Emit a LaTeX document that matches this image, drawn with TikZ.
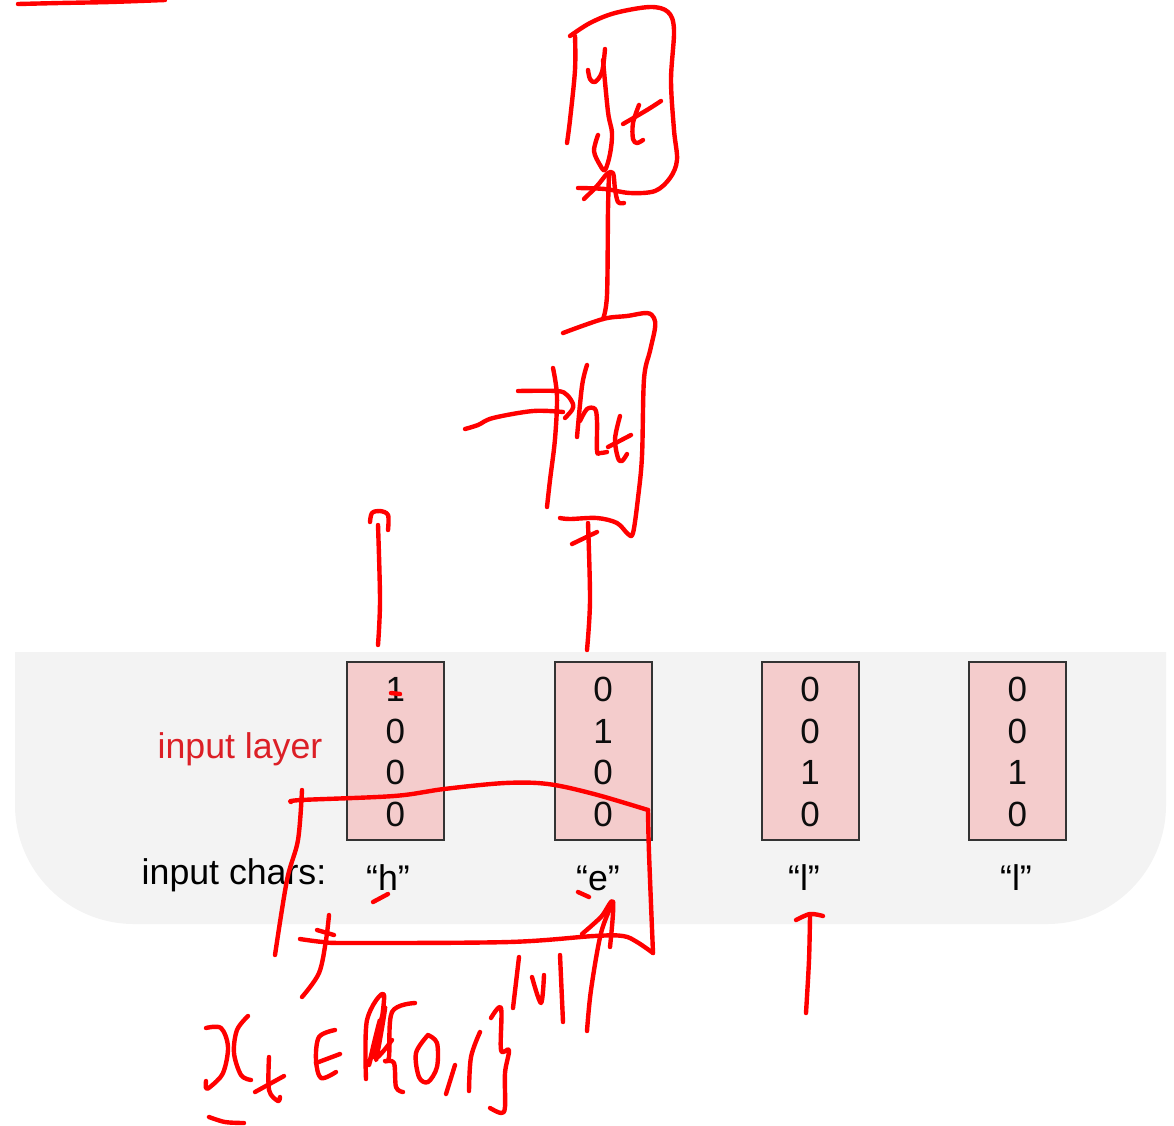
\documentclass[tikz,border=0pt]{standalone}
\usepackage{fontspec}
\setmainfont{Liberation Sans}
\definecolor{panel}{HTML}{F3F3F3}
\definecolor{cell}{HTML}{F4CCCC}
\definecolor{ink}{HTML}{FF0000}
\definecolor{lab}{HTML}{DC1F26}
\tikzset{
 vecbox/.style={draw=black!80,line width=2pt,fill=cell,minimum width=97pt,minimum height=178pt,inner sep=0pt},
 digit/.style={font=\fontsize{35}{35}\selectfont,inner sep=0pt,text=black!95},
 lbl/.style={font=\fontsize{35.7}{36}\selectfont,inner sep=0pt,text=black},
 pen/.style={draw=ink,line width=4.4pt,line cap=round,line join=round}
}
\newcommand{\pens}[1]{\draw[pen] plot[smooth,tension=0.55] coordinates {#1};}
\begin{document}
\begin{tikzpicture}[x=1pt,y=-1pt]
\useasboundingbox (0,0) rectangle (1174,1125);
\fill[panel] (15,652) -- (1166,652) -- (1166,805) arc[start angle=0,end angle=90,radius=119] -- (134,924) arc[start angle=90,end angle=180,radius=119] -- cycle;
\foreach \n/\x/\a/\b/\c/\d in {b1/395.3/1/0/0/0,b2/603/0/1/0/0,b3/810/0/0/1/0,b4/1017.3/0/0/1/0}{
 \node[vecbox] (\n) at (\x,750.5) {};
 \node[digit] (\n a) at (\x,689.5) {\a};
 \node[digit] (\n b) at (\x,731.5) {\b};
 \node[digit] (\n c) at (\x,772.5) {\c};
 \node[digit] (\n d) at (\x,814.5) {\d};
}
\node[lbl,text=lab] (il) at (240,749) {input layer};
\node[lbl] (ic) at (234,875) {input chars:};
\node[lbl] (ch) at (388,878) {“h”};
\node[lbl] (ce) at (598,878) {“e”};
\node[lbl] (cl) at (804,878) {“l”};
\node[lbl] (cm) at (1016,878) {“l”};
% top-left remnant
\pens{(18,4)(60,3)(110,2)(165,0)}
% y_t box
\pens{(570,36)(590,23)(615,13)(650,7)(668,12)(674,30)(671,80)(674,130)(677,160)(670,178)(655,191)(630,193)(605,189)(578,188)}
\pens{(575,36)(575,70)(570,120)(567,143)}
\pens{(588,70)(590,79)(595,82)(602,72)(605,49)}
\pens{(603,60)(608,112)(612,133)(610,154)(605,170)(600,165)(594,151)(598,135)}
\pens{(661,101)(647,110)(623,124)}
\pens{(639,105)(633,123)(633,139)(637,143)(643,140)}
% arrow h_t to y_t
\pens{(603,319)(607,295)(608,210)(609,175)}
\pens{(584,199)(597,186)(607,174)(613,173)(615,189)(618,202)(624,203)}
% h_t box
\pens{(563,333)(603,319)(627,316)(647,313)(654,318)(655,328)(650,351)(644,379)(642,456)(638,498)(633,533)(628,534)(617,523)(597,518)(570,519)(560,518)}
\pens{(553,368)(557,396)(555,439)(550,480)(547,507)}
\pens{(518,391)(557,391)(567,395)(573,404)(572,410)(565,418)}
\pens{(465,429)(478,425)(493,418)(533,411)(563,412)}
\pens{(587,365)(582,386)(577,437)}
\pens{(580,421)(587,409)(595,409)(597,421)(597,451)(600,453)(607,452)}
\pens{(631,435)(608,447)}
\pens{(620,416)(615,439)(618,458)(622,461)(627,454)}
% arrows up from inputs
\pens{(588,523)(590,600)(587,650)}
\pens{(572,544)(597,532)}
\pens{(378,645)(380,600)(378,525)}
\pens{(370,522)(372,513)(380,511)(388,515)(388,530)}
% vector box
\pens{(291,802)(301,800)(394,796)(444,789)(505,783)(548,784)(594,794)(648,810)}
\pens{(648,810)(649,853)(653,953)}
\pens{(653,953)(637,942)(623,936)(594,936)(509,942)(351,943)(323,942)(300,939)}
\pens{(302,790)(298,840)(287,880)(275,955)}
\pens{(329,915)(326,940)(319,973)(302,997)}
\pens{(317,930)(334,935)}
% arrow to e
\pens{(587,1031)(591,990)(601,933)(613,902)}
\pens{(582,934)(601,917)(613,902)(610,947)}
% arrow to l
\pens{(806,1013)(809,960)(810,916)}
\pens{(796,920)(810,914)(823,916)}
% marks
\pens{(373,902)(388,894)}
\pens{(578,892)(589,897)}
\pens{(391,693)(400,694)}
% |V|
\pens{(519,957)(513,1008)}
\pens{(532,977)(541,1003)(544,975)}
\pens{(560,955)(563,1022)}
% x_t
\pens{(206,1028)(221,1028)(228,1047)(223,1073)(210,1087)(206,1088)(206,1081)}
\pens{(248,1016)(237,1030)(234,1053)(241,1075)(251,1080)}
\pens{(284,1076)(255,1092)}
\pens{(269,1057)(269,1090)(278,1101)(280,1097)}
% element-of
\pens{(335,1030)(319,1037)(316,1060)(321,1078)(336,1072)}
\pens{(316,1063)(340,1054)}
% scribble
\pens{(366,1079)(367,1020)(384,995)(376,1060)(385,1007)(369,1065)(380,1020)(375,1058)(392,1040)}
% {0,1}
\pens{(415,1003)(392,1012)(389,1057)(385,1061)(394,1063)(396,1087)(403,1092)}
\pens{(428,1035)(416,1053)(419,1077)(428,1082)(437,1067)(437,1043)(428,1035)}
\pens{(455,1065)(446,1094)}
\pens{(480,1032)(471,1057)(469,1091)}
\pens{(491,1018)(501,1008)(501,1050)(509,1050)(505,1073)(505,1107)(501,1113)(490,1108)}
\pens{(209,1117)(225,1122)(244,1123)}
\end{tikzpicture}
\end{document}
